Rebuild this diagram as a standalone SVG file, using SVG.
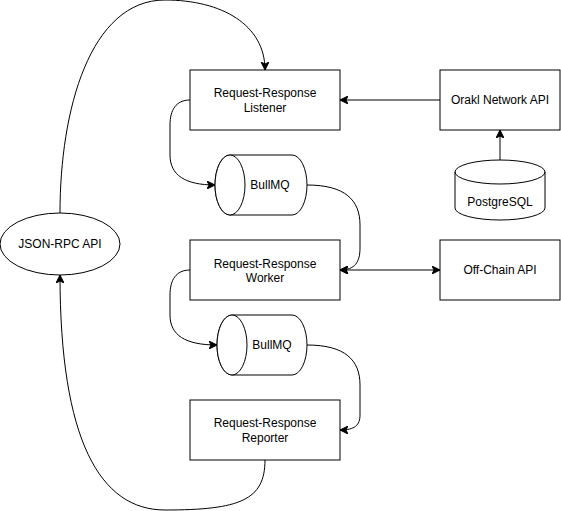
<svg xmlns="http://www.w3.org/2000/svg" width="561" height="511" viewBox="0 0 561 511">
<style>
.n{fill:#ffffff;stroke:#000000;stroke-width:1}
.t{font-family:"Liberation Sans",Arial,sans-serif;font-size:12px;fill:#000000;text-anchor:middle}
.c{fill:none;stroke:#000000;stroke-width:1}
.a{marker-end:url(#arr)}
.b{marker-start:url(#arr);marker-end:url(#arr)}
</style>
<defs>
<marker id="arr" viewBox="0 0 8 8" refX="8" refY="4" markerWidth="8" markerHeight="8" markerUnits="userSpaceOnUse" orient="auto-start-reverse">
<path d="M0,0 L8,4 L0,8 L2,4 Z" fill="#000000" stroke="#000000" stroke-width="1"/>
</marker>
</defs>
<rect width="561" height="511" fill="#ffffff"/>
<g id="connectors">
<path class="c a" d="M60,213 C60,110 90,0 165,0 C222,0 265,25 265,70"/>
<path class="c a" d="M440,100 L340,100"/>
<path class="c a" d="M500,160 L500,130"/>
<path class="c a" d="M190,100 C176,100 170,110 170,125 L170,155 C170,175 185,185 215,185"/>
<path class="c a" d="M307,185 C345,185 360,200 360,225 L360,248 C360,262 355,270 340,270"/>
<path class="c b" d="M340,270 L440,270"/>
<path class="c a" d="M190,270 C176,270 170,280 170,295 L170,315 C170,335 185,345 217,345"/>
<path class="c a" d="M307,345 C345,345 360,360 360,385 L360,415 C360,425 355,430 340,430"/>
<path class="c a" d="M265,460 C265,500 240,510 165,510 C100,510 60,440 60,275"/>
</g>
<g id="listener">
<rect class="n" x="190" y="70" width="150" height="60"/>
<text class="t" x="265" y="97">Request-Response</text>
<text class="t" x="265" y="111.5">Listener</text>
</g>
<g id="orakl-api">
<rect class="n" x="440" y="70" width="120" height="60"/>
<text class="t" x="500" y="104">Orakl Network API</text>
</g>
<g id="postgresql">
<path class="n" d="M455,172 A45,12 0 0 1 545,172 L545,208 A45,12 0 0 1 455,208 Z"/>
<path class="c" d="M455,172 A45,12 0 0 0 545,172"/>
<text class="t" x="500" y="206">PostgreSQL</text>
</g>
<g id="bullmq-1">
<path class="n" d="M230,155 L292,155 A15,30 0 0 1 292,215 L230,215 A15,30 0 0 1 230,155 Z"/>
<ellipse class="n" cx="230" cy="185" rx="15" ry="30"/>
<text class="t" x="270" y="189">BullMQ</text>
</g>
<g id="worker">
<rect class="n" x="190" y="240" width="150" height="60"/>
<text class="t" x="265" y="267.5">Request-Response</text>
<text class="t" x="265" y="282">Worker</text>
</g>
<g id="off-chain-api">
<rect class="n" x="440" y="240" width="120" height="60"/>
<text class="t" x="500" y="274">Off-Chain API</text>
</g>
<g id="bullmq-2">
<path class="n" d="M232,315 L292,315 A15,30 0 0 1 292,375 L232,375 A15,30 0 0 1 232,315 Z"/>
<ellipse class="n" cx="232" cy="345" rx="15" ry="30"/>
<text class="t" x="272" y="349">BullMQ</text>
</g>
<g id="reporter">
<rect class="n" x="190" y="400" width="150" height="60"/>
<text class="t" x="265" y="427">Request-Response</text>
<text class="t" x="265" y="441.5">Reporter</text>
</g>
<g id="json-rpc-api">
<ellipse class="n" cx="60" cy="244" rx="60" ry="31"/>
<text class="t" x="60" y="248">JSON-RPC API</text>
</g>
</svg>
